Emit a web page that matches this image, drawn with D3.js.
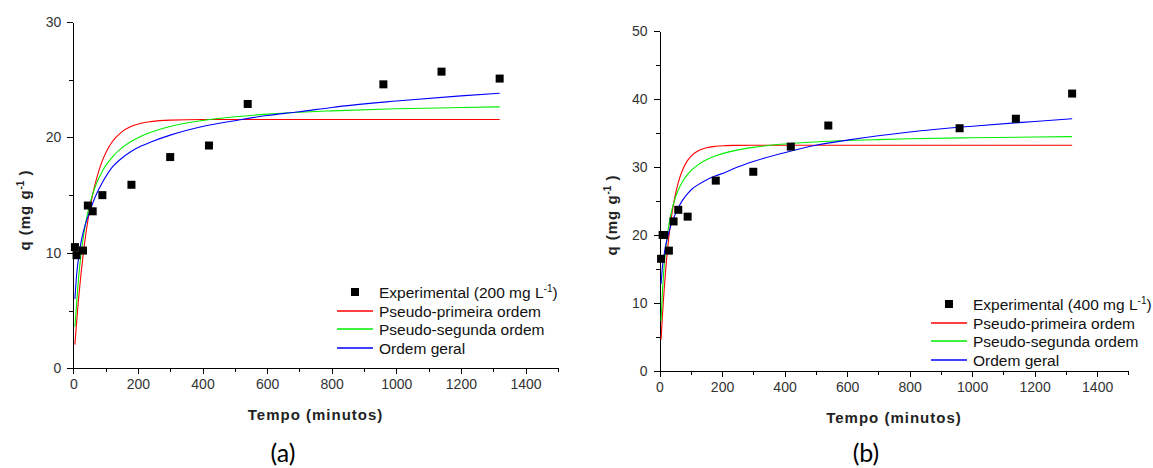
<!DOCTYPE html>
<html>
<head>
	<meta charset="utf-8">
	<title>Cinetica</title>
	<style type="text/css">
		body { margin: 0; background: #fff; }
		svg { display: block; }
		.tick text { font-family: "Liberation Sans", Arial, sans-serif; font-size: 14px; fill: #333; }
		.axis path, .axis line { stroke: #000; stroke-width: 1; shape-rendering: crispEdges; }
		.titulo { font-family: "Liberation Sans", Arial, sans-serif; font-size: 15px; font-weight: bold; letter-spacing: 1px; fill: #222; }
		.legenda { font-family: "Liberation Sans", Arial, sans-serif; font-size: 15.5px; fill: #111; }
		.rotulo { font-family: Lato, "Open Sans", sans-serif; font-size: 25px; fill: #000; }
	</style>
</head>
<body>
	<div id="grafico"></div>
	<script src="https://cdn.jsdelivr.net/npm/d3@7"></script>
	<script type="text/javascript">
		// pontos experimentais
		var tempoA = [5, 10, 30, 45, 60, 90, 180, 300, 420, 540, 960, 1140, 1320];
		var qExpA = [10.5, 9.8, 10.2, 14.1, 13.6, 15.0, 15.9, 18.3, 19.3, 22.9, 24.6, 25.7, 25.1];

		var tempoB = [5, 10, 15, 30, 45, 60, 90, 180, 300, 420, 540, 960, 1140, 1320];
		var qExpB = [16.5, 20.0, 20.0, 17.7, 22.0, 23.7, 22.7, 28.0, 29.3, 33.0, 36.1, 35.7, 37.1, 40.8];

		// curvas dos modelos
		var tempoModelo = [5, 10, 15, 20, 30, 40, 50, 60, 75, 90, 105, 120, 150, 180, 210, 240, 300, 400, 500, 600, 700, 800, 1000, 1200, 1320];

		var ppoA = [2.05, 3.91, 5.59, 7.10, 9.72, 11.87, 13.62, 15.06, 16.74, 17.99, 18.91, 19.60, 20.48, 20.96, 21.23, 21.37, 21.50, 21.55, 21.55, 21.55, 21.55, 21.55, 21.55, 21.55, 21.55];
		var psoA = [3.6, 5.49, 7.36, 8.88, 11.18, 12.84, 14.10, 15.09, 16.22, 17.08, 17.75, 18.28, 19.09, 19.67, 20.11, 20.45, 20.95, 21.47, 21.79, 22.02, 22.18, 22.30, 22.48, 22.59, 22.65];
		var geralA = [6.0, 8.0, 9.3, 10.3, 11.7, 12.7, 13.5, 14.3, 15.3, 16.1, 16.8, 17.4, 18.2, 18.8, 19.25, 19.6, 20.2, 20.95, 21.45, 21.9, 22.22, 22.6, 23.15, 23.6, 23.83];

		var ppoB = [4.62, 8.61, 12.03, 14.98, 19.70, 23.20, 25.79, 27.71, 29.70, 30.97, 31.78, 32.29, 32.83, 33.05, 33.14, 33.18, 33.2, 33.2, 33.2, 33.2, 33.2, 33.2, 33.2, 33.2, 33.2];
		var psoB = [7.34, 12.13, 15.50, 18.01, 21.48, 23.77, 25.39, 26.61, 27.94, 28.91, 29.64, 30.21, 31.05, 31.64, 32.08, 32.41, 32.89, 33.38, 33.68, 33.89, 34.03, 34.15, 34.30, 34.41, 34.46];
		var geralB = [12.8, 15.6, 17.2, 18.5, 20.4, 21.9, 23.0, 24.0, 25.2, 26.1, 26.8, 27.3, 28.1, 28.7, 29.2, 29.8, 30.8, 32.1, 33.2, 33.95, 34.6, 35.15, 36.0, 36.7, 37.1];

		var nomesModelos = ["Pseudo-primeira ordem", "Pseudo-segunda ordem", "Ordem geral"];
		var coresModelos = ["#ff0000", "#00ee00", "#0000ff"];

		var width = 1153, height = 468;

		var svg = d3.select('#grafico')
			.append('svg')
			.attr('width', width)
			.attr('height', height);

		function painel(cfg) {
			var x = d3.scaleLinear().domain([0, 1500]).range([cfg.x0, cfg.x1]),
				y = d3.scaleLinear().domain([0, cfg.ymax]).range([cfg.y0, cfg.y1]);

			var g = svg.append('g');

			// ticks menores
			g.append('g').attr('class', 'axis')
				.attr('transform', 'translate(0,' + cfg.y0 + ')')
				.call(d3.axisBottom(x).tickValues(d3.range(100, 1600, 200)).tickSize(4).tickFormat(''))
				.select('.domain').remove();
			g.append('g').attr('class', 'axis')
				.attr('transform', 'translate(' + cfg.x0 + ',0)')
				.call(d3.axisLeft(y).tickValues(d3.range(5, cfg.ymax, 10)).tickSize(4).tickFormat(''))
				.select('.domain').remove();

			// eixos principais
			g.append('g').attr('class', 'axis')
				.attr('transform', 'translate(0,' + cfg.y0 + ')')
				.call(d3.axisBottom(x).tickValues(d3.range(0, 1600, 200)).tickFormat(d3.format('d'))
					.tickSize(6).tickSizeOuter(0).tickPadding(5));
			g.append('g').attr('class', 'axis')
				.attr('transform', 'translate(' + cfg.x0 + ',0)')
				.call(d3.axisLeft(y).tickValues(d3.range(0, cfg.ymax + 1, 10)).tickFormat(d3.format('d'))
					.tickSize(6).tickSizeOuter(0).tickPadding(6));

			// curvas
			var linha = d3.line()
				.x(function(d) { return x(d[0]); })
				.y(function(d) { return y(d[1]); })
				.curve(d3.curveMonotoneX);

			cfg.curvas.forEach(function(serie, i) {
				g.append('path')
					.datum(tempoModelo.map(function(t, j) { return [t, serie[j]]; }))
					.attr('fill', 'none')
					.attr('stroke', coresModelos[i])
					.attr('stroke-width', 1.1)
					.attr('d', linha);
			});

			// pontos
			g.selectAll('rect.ponto')
				.data(cfg.tempo.map(function(t, j) { return [t, cfg.qExp[j]]; }))
				.enter()
				.append('rect')
				.attr('class', 'ponto')
				.attr('x', function(d) { return x(d[0]) - 4; })
				.attr('y', function(d) { return y(d[1]) - 4; })
				.attr('width', 8)
				.attr('height', 8)
				.attr('fill', '#000');

			// titulos dos eixos
			g.append('text')
				.attr('class', 'titulo')
				.attr('x', (cfg.x0 + cfg.x1) / 2)
				.attr('y', cfg.y0 + 52)
				.attr('text-anchor', 'middle')
				.text('Tempo (minutos)');

			var ty = g.append('text')
				.attr('class', 'titulo')
				.attr('transform', 'translate(' + (cfg.x0 - 43) + ',' + cfg.tituloY + ') rotate(-90)')
				.attr('text-anchor', 'middle');
			ty.append('tspan').text('q (mg g');
			ty.append('tspan').attr('dy', -6).style('font-size', '10px').style('letter-spacing', '0px').text('-1');
			ty.append('tspan').attr('dy', 6).text(' )');

			// legenda
			var lg = g.append('g').attr('transform', 'translate(' + cfg.legX + ',' + cfg.legY + ')');
			lg.append('rect').attr('x', 14).attr('y', -4).attr('width', 8).attr('height', 8).attr('fill', '#000');
			var t0 = lg.append('text').attr('class', 'legenda').attr('x', 42).attr('y', 6);
			t0.append('tspan').text('Experimental (' + cfg.conc + ' mg L');
			t0.append('tspan').attr('dy', -6).style('font-size', '10px').text('-1');
			t0.append('tspan').attr('dy', 6).text(')');

			nomesModelos.forEach(function(nome, i) {
				var yy = Math.round(18.6 * (i + 1));
				lg.append('line')
					.attr('x1', 0).attr('x2', 36)
					.attr('y1', yy).attr('y2', yy)
					.attr('stroke', coresModelos[i])
					.attr('stroke-width', 1.6);
				lg.append('text').attr('class', 'legenda')
					.attr('x', 42).attr('y', yy + 6)
					.text(nome);
			});

			// rotulo do painel
			svg.append('text')
				.attr('class', 'rotulo')
				.attr('x', cfg.rotuloX)
				.attr('y', 462)
				.attr('text-anchor', 'middle')
				.text(cfg.rotulo);
		}

		painel({
			x0: 73.3, x1: 557.8, y0: 368.3, y1: 22, ymax: 30,
			tempo: tempoA, qExp: qExpA, curvas: [ppoA, psoA, geralA],
			conc: '200', legX: 337, legY: 292, tituloY: 210,
			rotulo: '(a)', rotuloX: 283
		});

		painel({
			x0: 659.5, x1: 1128.4, y0: 371, y1: 31, ymax: 50,
			tempo: tempoB, qExp: qExpB, curvas: [ppoB, psoB, geralB],
			conc: '400', legX: 931, legY: 304, tituloY: 215,
			rotulo: '(b)', rotuloX: 866
		});
	</script>
</body>
</html>
